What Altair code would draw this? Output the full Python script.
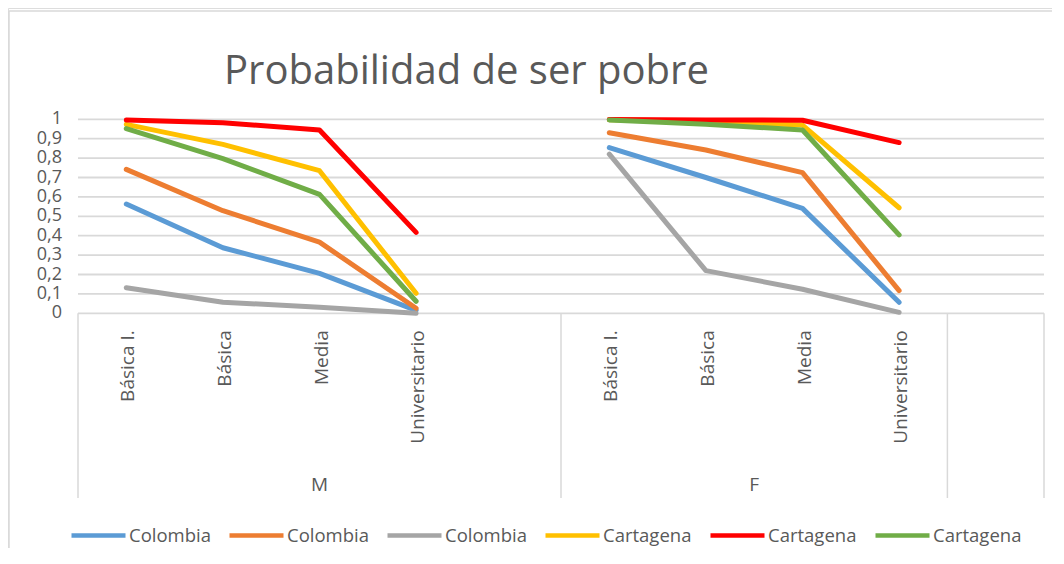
import altair as alt
import pandas as pd

# ---------------- data ----------------
title_text = "Probabilidad de ser pobre"
groups = ["M", "F"]
levels = ["Básica I.", "Básica", "Media", "Universitario"]

series_keys = ["s1", "s2", "s3", "s4", "s5", "s6"]
series_names = ["Colombia", "Colombia", "Colombia", "Cartagena", "Cartagena", "Cartagena"]
series_colors = ["#5b9bd5", "#ed7d31", "#a5a5a5", "#ffc000", "#ff0000", "#70ad47"]

# values per series: M (4 levels) and F (4 levels)
s1_M = [0.563, 0.338, 0.206, 0.015]
s1_F = [0.854, 0.700, 0.541, 0.057]
s2_M = [0.742, 0.529, 0.367, 0.026]
s2_F = [0.931, 0.842, 0.725, 0.117]
s3_M = [0.132, 0.057, 0.031, 0.000]
s3_F = [0.820, 0.220, 0.124, 0.005]
s4_M = [0.974, 0.871, 0.735, 0.103]
s4_F = [0.998, 0.990, 0.970, 0.544]
s5_M = [0.996, 0.982, 0.945, 0.417]
s5_F = [0.999, 0.997, 0.995, 0.880]
s6_M = [0.952, 0.797, 0.613, 0.062]
s6_F = [0.997, 0.975, 0.945, 0.404]

y_ticks = [0, 0.1, 0.2, 0.3, 0.4, 0.5, 0.6, 0.7, 0.8, 0.9, 1.0]
y_tick_labels = ["0", "0,1", "0,2", "0,3", "0,4", "0,5", "0,6", "0,7", "0,8", "0,9", "1"]

# category slots: group M has 5 slots (4 levels + blank), F has 4, then a blank group of 1
group_slot_counts = [5, 4, 1]

# ---------------- tables ----------------
vals = {
    "s1": (s1_M, s1_F), "s2": (s2_M, s2_F), "s3": (s3_M, s3_F),
    "s4": (s4_M, s4_F), "s5": (s5_M, s5_F), "s6": (s6_M, s6_F),
}
starts = [0]
for c in group_slot_counts[:-1]:
    starts.append(starts[-1] + c)
total_slots = sum(group_slot_counts)

rows = []
for k in series_keys:
    for gi, g in enumerate(groups):
        for li, v in enumerate(vals[k][gi]):
            rows.append({"series": k, "grp": g, "pos": starts[gi] + li, "value": v})
df = pd.DataFrame(rows)

cat_rows = []
for gi, g in enumerate(groups):
    for li, lab in enumerate(levels):
        cat_rows.append({"pos": starts[gi] + li, "label": lab, "y0": 0})
cat_df = pd.DataFrame(cat_rows)

grp_df = pd.DataFrame({
    "grp": groups,
    "center": [starts[i] - 0.5 + group_slot_counts[i] / 2 for i in range(len(groups))],
})

bounds = [s - 0.5 for s in starts] + [total_slots - 0.5]
div_df = pd.DataFrame({"xd": bounds, "y0": [0] * len(bounds)})

grid_df = pd.DataFrame({"v": y_ticks, "lab": y_tick_labels,
                        "xa": [-0.5] * len(y_ticks), "xb": [total_slots - 0.5] * len(y_ticks)})

one = pd.DataFrame({"t": [title_text]})

# ---------------- scales ----------------
FONT = "Open Sans"
TXT = "#595959"
GRID = "#d9d9d9"
W, H = 1044, 540

xs = alt.Scale(domain=[-0.5, total_slots - 0.5], range=[70, 1036], nice=False, zero=False)
ys = alt.Scale(domain=[0, 1], range=[305.3, 111.3], nice=False, zero=False)

label_expr = " : ".join(
    [f"datum.value == '{k}' ? '{n}'" for k, n in zip(series_keys[:-1], series_names[:-1])]
    + [f"'{series_names[-1]}'"]
)

legend = alt.Legend(
    orient="none", legendX=61, legendY=498, direction="horizontal", columns=6,
    title=None, symbolType="stroke", symbolSize=2916, symbolStrokeWidth=4.5,
    labelFontSize=18.5, labelFont=FONT, labelColor=TXT, labelOffset=1,
    columnPadding=9, labelExpr=label_expr,
)

# ---------------- layers ----------------
border_left = alt.Chart(one).mark_rule(color=GRID, strokeWidth=1.5).encode(
    x=alt.value(1), y=alt.value(3), y2=alt.value(H))
border_top = alt.Chart(one).mark_rule(color=GRID, strokeWidth=1.5).encode(
    x=alt.value(1), x2=alt.value(W), y=alt.value(3))

grid = alt.Chart(grid_df).mark_rule(color=GRID, strokeWidth=1.8).encode(
    x=alt.X("xa:Q", scale=xs, axis=None),
    x2="xb:Q",
    y=alt.Y("v:Q", scale=ys, axis=None),
)

dividers = alt.Chart(div_df).mark_rule(color=GRID, strokeWidth=1.5).encode(
    x=alt.X("xd:Q", scale=xs, axis=None),
    y=alt.Y("y0:Q", scale=ys, axis=None),
    y2=alt.value(490),
)

ylabels = alt.Chart(grid_df).mark_text(
    align="right", baseline="middle", dx=-16, fontSize=18, font=FONT, color=TXT
).encode(
    x=alt.X("xa:Q", scale=xs, axis=None),
    y=alt.Y("v:Q", scale=ys, axis=None),
    text="lab:N",
)

catlabels = alt.Chart(cat_df).mark_text(
    angle=270, align="right", baseline="middle", dx=-17, dy=2,
    fontSize=19, font=FONT, color=TXT
).encode(
    x=alt.X("pos:Q", scale=xs, axis=None),
    y=alt.Y("y0:Q", scale=ys, axis=None),
    text="label:N",
)

grplabels = alt.Chart(grp_df).mark_text(
    baseline="middle", fontSize=19, font=FONT, color=TXT
).encode(
    x=alt.X("center:Q", scale=xs, axis=None),
    y=alt.value(477),
    text="grp:N",
)

title = alt.Chart(one).mark_text(
    align="left", baseline="alphabetic", fontSize=40, font=FONT, color=TXT
).encode(x=alt.value(216), y=alt.value(76), text="t:N")

lines = []
for k in series_keys:
    lines.append(
        alt.Chart(df[df["series"] == k]).mark_line(
            strokeWidth=5, strokeCap="round", strokeJoin="round"
        ).encode(
            x=alt.X("pos:Q", scale=xs, axis=None),
            y=alt.Y("value:Q", scale=ys, axis=None),
            color=alt.Color("series:N",
                            scale=alt.Scale(domain=series_keys, range=series_colors),
                            legend=legend),
            detail="grp:N",
        )
    )

chart = alt.layer(
    border_left, border_top, grid, dividers, ylabels, catlabels, grplabels, title, *lines
).properties(
    width=W, height=H, padding=0, autosize="none"
).configure_view(stroke=None).configure(background="white")

chart.save("out.html", embed_options={"renderer": "svg", "actions": False})
